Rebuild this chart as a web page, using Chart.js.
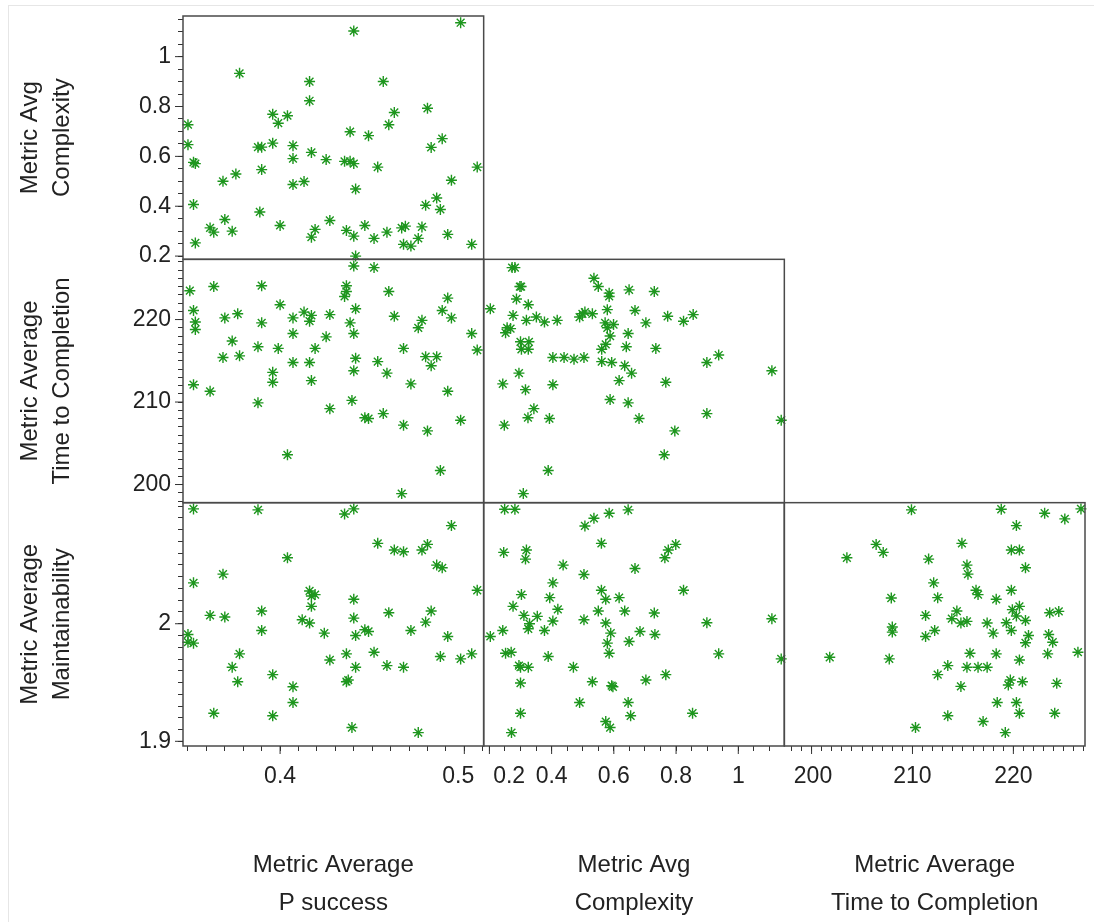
<!DOCTYPE html>
<html>
<head>
<meta charset="utf-8">
<script src="https://cdn.jsdelivr.net/npm/chart.js@4.4.0/dist/chart.umd.min.js"></script>
<style>
  html, body { margin: 0; padding: 0; background: #fff; overflow: hidden; }
  #frame { position: absolute; left: 8px; top: 5px; width: 1100px; height: 930px; border: 1px solid #e6e6e6; }
  #wrap { position: absolute; left: 0; top: 0; width: 1094px; height: 922px; }
</style>
</head>
<body>
<div id="frame"></div>
<div id="wrap"><canvas id="splom" width="1094" height="922"></canvas></div>
<script>
// row 1: Metric Avg Complexity vs Metric Average P success
const pSuccess1 = [0.440,0.498,0.378,0.416,0.456,0.416,0.480,0.396,0.404,0.399,0.462,0.459,0.350,0.350,0.353,0.354,0.388,0.390,0.396,0.407,0.407,0.417,0.425,0.435,0.438,0.440,0.438,0.448,0.453,0.482,0.488,0.507,0.376,0.369,0.390,0.407,0.413,0.441,0.493,0.353,0.389,0.370,0.362,0.364,0.374,0.400,0.354,0.427,0.419,0.417,0.436,0.440,0.446,0.451,0.458,0.466,0.468,0.477,0.475,0.467,0.471,0.479,0.485,0.487,0.491,0.504,0.441];
const complexity1 = [1.103,1.136,0.933,0.900,0.900,0.823,0.793,0.769,0.763,0.733,0.776,0.727,0.727,0.647,0.576,0.571,0.637,0.637,0.653,0.643,0.591,0.616,0.587,0.580,0.580,0.571,0.699,0.683,0.557,0.636,0.671,0.557,0.529,0.500,0.547,0.487,0.499,0.469,0.504,0.407,0.377,0.347,0.313,0.296,0.300,0.323,0.253,0.343,0.307,0.276,0.303,0.280,0.323,0.271,0.296,0.313,0.320,0.317,0.271,0.247,0.240,0.404,0.433,0.387,0.287,0.247,0.200];

// row 2: Metric Average Time to Completion vs P success / Complexity
const pSuccess2 = [0.440,0.451,0.351,0.364,0.390,0.436,0.436,0.435,0.459,0.491,0.488,0.493,0.353,0.354,0.354,0.370,0.377,0.400,0.390,0.407,0.413,0.417,0.416,0.427,0.441,0.438,0.440,0.462,0.477,0.475,0.504,0.507,0.374,0.369,0.378,0.388,0.399,0.407,0.425,0.419,0.407,0.416,0.396,0.396,0.417,0.441,0.440,0.453,0.458,0.467,0.479,0.485,0.482,0.471,0.491,0.353,0.362,0.388,0.439,0.427,0.446,0.448,0.456,0.467,0.480,0.498,0.404,0.487,0.466];
const time2 = [226.5,226.3,223.5,224.0,224.1,224.1,223.4,222.8,223.4,222.6,221.1,220.2,221.1,219.7,218.8,220.2,220.7,221.8,219.6,220.2,220.9,220.5,219.8,220.6,221.3,219.6,218.3,220.4,219.9,219.0,218.3,216.3,217.4,215.4,215.6,216.7,216.5,218.3,217.9,216.5,214.8,214.8,213.6,212.4,212.6,215.3,213.8,214.9,213.5,216.5,215.5,215.5,214.4,212.2,211.3,212.1,211.3,209.9,210.2,209.2,208.1,208.0,208.6,207.2,206.5,207.8,203.6,201.7,198.9];
const complexity3 = [0.273,0.282,0.302,0.298,0.287,0.325,0.203,0.276,0.319,0.351,0.377,0.418,0.257,0.268,0.252,0.300,0.327,0.303,0.325,0.536,0.550,0.585,0.585,0.649,0.730,0.668,0.499,0.507,0.531,0.490,0.579,0.572,0.599,0.579,0.588,0.574,0.561,0.646,0.703,0.773,0.824,0.855,0.404,0.440,0.472,0.504,0.561,0.593,0.635,0.657,0.640,0.735,0.899,0.937,1.108,0.295,0.243,0.316,0.404,0.617,0.767,0.588,0.646,0.343,0.324,0.393,0.681,0.899,1.138,0.248,0.796,0.762,0.389,0.309];
const time3 = [226.3,226.3,224.0,224.0,222.5,221.8,221.3,220.5,219.9,220.3,219.7,219.9,219.0,218.9,218.4,217.3,217.3,216.4,216.4,225.0,224.0,223.2,222.8,223.6,223.4,221.1,220.7,220.9,220.7,220.3,221.2,219.6,219.4,219.0,218.0,217.0,216.4,218.3,219.6,220.4,219.8,220.6,215.4,215.4,215.2,215.4,214.9,214.8,214.4,213.5,216.7,216.5,214.8,215.7,213.8,213.5,212.2,211.5,212.1,212.6,212.4,210.3,209.9,209.2,208.1,208.0,208.0,208.6,207.8,207.2,206.5,203.6,201.7,198.9];

// row 3: Metric Average Maintainability vs P success / Complexity / Time
const pSuccess4 = [0.353,0.388,0.435,0.440,0.493,0.453,0.462,0.467,0.477,0.480,0.485,0.488,0.404,0.369,0.353,0.507,0.416,0.417,0.419,0.417,0.440,0.362,0.370,0.390,0.390,0.412,0.416,0.424,0.440,0.441,0.446,0.448,0.459,0.471,0.482,0.479,0.491,0.350,0.350,0.353,0.378,0.374,0.377,0.396,0.407,0.407,0.427,0.436,0.441,0.436,0.437,0.451,0.458,0.467,0.487,0.498,0.504,0.364,0.396,0.439,0.475];
const maint4 = [2.0977,2.0969,2.0934,2.0977,2.0835,2.0684,2.0627,2.0613,2.0627,2.0675,2.0499,2.0476,2.0561,2.0422,2.0348,2.0285,2.0279,2.0236,2.0248,2.0148,2.0208,2.0071,2.0057,2.0108,1.9943,2.0034,2.0006,1.992,2.0048,1.99,1.9949,1.9934,2.0094,1.9943,2.0108,2.0014,1.9892,1.9909,1.9843,1.9835,1.9744,1.963,1.9507,1.9567,1.9464,1.933,1.9692,1.9744,1.963,1.9507,1.9521,1.9758,1.9644,1.963,1.9721,1.9701,1.9744,1.9239,1.9217,1.9117,1.9074];
const complexity5 = [0.249,0.282,0.507,0.536,0.585,0.646,0.560,0.246,0.319,0.316,0.764,0.775,0.799,0.437,0.504,0.668,0.404,0.303,0.394,0.420,0.276,0.560,0.574,0.617,0.824,0.550,0.635,0.730,0.311,0.354,0.329,0.325,0.404,0.377,0.504,0.574,0.590,0.684,0.732,0.649,0.579,0.585,0.899,1.108,0.203,0.243,0.252,0.270,0.295,0.300,0.325,0.389,0.470,0.937,1.138,0.300,0.531,0.593,0.597,0.703,0.767,0.490,0.646,0.654,0.853,0.300,0.574,0.588,0.271];
const maint5 = [2.0974,2.0974,2.0832,2.0897,2.094,2.0969,2.0684,2.0607,2.0627,2.055,2.0561,2.0627,2.0675,2.0499,2.0419,2.047,2.0348,2.0248,2.0222,2.0123,2.0148,2.0285,2.0208,2.0222,2.0285,2.0108,2.0108,2.0091,2.0071,2.0063,2.0,1.9957,2.0023,1.9943,2.0034,2.0006,1.992,1.9934,1.9909,1.9849,1.9835,1.9749,2.0009,2.0043,1.9892,1.9943,1.9749,1.9758,1.9644,1.963,1.963,1.9721,1.963,1.9744,1.9701,1.9496,1.9507,1.9473,1.9464,1.9521,1.9567,1.933,1.933,1.9217,1.9239,1.9239,1.9168,1.9117,1.9074];
const time6 = [209.9,218.8,223.1,225.1,226.7,220.3,214.9,206.4,207.1,203.5,211.6,219.8,220.6,215.4,215.5,221.2,212.1,216.3,216.5,219.8,207.9,212.5,218.3,219.9,220.6,220.3,221.2,223.6,224.5,211.3,214.4,213.9,214.8,215.4,217.4,219.3,219.8,218.0,221.5,221.2,223.5,223.9,208.0,208.0,211.3,212.2,201.8,207.7,215.7,218.3,220.6,223.4,226.4,213.5,215.4,216.5,217.4,212.5,214.8,219.7,219.5,220.9,224.3,218.4,220.3,220.6,224.1,213.5,217.0,219.2,210.3];
const maint6 = [2.0969,2.0974,2.094,2.0892,2.0977,2.0835,2.0684,2.0675,2.0607,2.0561,2.055,2.0627,2.0627,2.0499,2.0422,2.0476,2.0348,2.0285,2.0248,2.0285,2.0219,2.0222,2.0208,2.012,2.0148,2.0066,2.0028,2.0094,2.0105,2.0071,2.0108,2.0043,2.0006,2.002,2.0006,2.0009,1.9943,1.992,1.99,1.9838,1.9909,1.9843,1.9972,1.9929,1.9892,1.9943,1.9715,1.9701,1.9749,1.9744,1.9692,1.9744,1.9758,1.9644,1.963,1.963,1.963,1.9567,1.9467,1.9521,1.9479,1.9507,1.9493,1.933,1.933,1.9239,1.9239,1.9217,1.9168,1.9074,1.9117];

// labelled tick values
const pSuccessTicks = [0.4, 0.5];
const complexityTicks = [0.2, 0.4, 0.6, 0.8, 1];
const timeTicks = [200, 210, 220];
const maintTicks = [1.9, 2];

const titleP = ['Metric Average', 'P success'];
const titleC = ['Metric Avg', 'Complexity'];
const titleT = ['Metric Average', 'Time to Completion'];
const titleM = ['Metric Average', 'Maintainability'];

const FONT = '"Liberation Sans", Arial, sans-serif';
const GREEN = 'rgb(30,150,30)';

function stepTicks(min, max, step) {
  const out = [];
  for (let k = Math.ceil(min / step - 1e-9); k * step <= max + 1e-9; k++) {
    out.push({ value: +(k * step).toFixed(6) });
  }
  return out;
}

function axis(pos, min, max, step, labels, title) {
  const left = pos === 'left';
  return {
    type: 'linear',
    position: pos,
    stack: left ? 'rows' : 'cols',
    stackWeight: 1,
    bounds: 'data',
    min: min,
    max: max,
    afterBuildTicks: s => { s.ticks = stepTicks(min, max, step); },
    afterFit: s => {
      if (left) s.width = 175; else s.height = 176;
      s.paddingTop = 0; s.paddingBottom = 0; s.paddingLeft = 0; s.paddingRight = 0;
    },
    border: { display: false },
    grid: { drawOnChartArea: false, drawTicks: true, tickLength: 5, tickColor: '#333', tickWidth: 1 },
    ticks: {
      autoSkip: false,
      maxRotation: 0,
      padding: 7,
      color: '#222',
      font: { family: FONT, size: 23 },
      // x labels are drawn by the plugin below so they can be nudged apart
      callback: v => (left && labels.some(l => Math.abs(l - v) < 1e-9)) ? String(v) : ''
    },
    title: {
      display: true,
      text: title,
      color: '#222',
      font: { family: FONT, size: 24, lineHeight: left ? 1.34 : 1.58 },
      padding: left ? { top: 6, bottom: 0 } : { top: 0, bottom: 0 }
    }
  };
}

function panel(xs, ys, xAxisID, yAxisID) {
  return {
    data: xs.map((x, i) => ({ x: x, y: ys[i] })),
    xAxisID: xAxisID,
    yAxisID: yAxisID,
    pointStyle: 'star',
    pointRadius: 5.5,
    pointBorderWidth: 1.4,
    pointBorderColor: GREEN,
    pointBackgroundColor: GREEN,
    clip: 6
  };
}

const majorTicks = { xP: pSuccessTicks, xC: complexityTicks, xT: timeTicks, yC: complexityTicks, yT: timeTicks, yM: maintTicks };

const matrixDecor = {
  id: 'matrixDecor',
  afterDraw(chart) {
    const ctx = chart.ctx;
    ctx.save();
    ctx.strokeStyle = '#4a4a4a';
    ctx.lineWidth = 1.5;
    chart.data.datasets.forEach((d, i) => {
      const m = chart.getDatasetMeta(i);
      ctx.strokeRect(m.xScale.left, m.yScale.top, m.xScale.right - m.xScale.left, m.yScale.bottom - m.yScale.top);
    });
    ctx.strokeStyle = '#333';
    ctx.lineWidth = 1;
    ctx.font = '23px ' + FONT;
    ctx.fillStyle = '#222';
    ctx.textAlign = 'center';
    ctx.textBaseline = 'alphabetic';
    Object.entries(majorTicks).forEach(([id, vals]) => {
      const s = chart.scales[id];
      vals.forEach(v => {
        const p = s.getPixelForValue(v);
        ctx.beginPath();
        if (s.isHorizontal()) {
          ctx.moveTo(p, s.top);
          ctx.lineTo(p, s.top + 8);
          ctx.stroke();
          const txt = String(v);
          const w = ctx.measureText(txt).width;
          const cx = Math.min(Math.max(p, s.left + w / 2 + 9.5), s.right - w / 2 - 9.5);
          ctx.fillText(txt, cx, s.top + 37);
        } else {
          ctx.moveTo(s.right - 8, p);
          ctx.lineTo(s.right, p);
          ctx.stroke();
        }
      });
    });
    ctx.restore();
  }
};

new Chart(document.getElementById('splom').getContext('2d'), {
  type: 'scatter',
  data: {
    datasets: [
      panel(pSuccess1, complexity1, 'xP', 'yC'),
      panel(pSuccess2, time2, 'xP', 'yT'),
      panel(complexity3, time3, 'xC', 'yT'),
      panel(pSuccess4, maint4, 'xP', 'yM'),
      panel(complexity5, maint5, 'xC', 'yM'),
      panel(time6, maint6, 'xT', 'yM')
    ]
  },
  options: {
    responsive: false,
    animation: false,
    events: [],
    layout: { padding: { left: 8, right: 9, top: 16, bottom: 0 } },
    plugins: { legend: { display: false }, tooltip: { enabled: false } },
    scales: {
      // stacked left axes are laid out bottom-up
      yM: axis('left', 1.896, 2.103, 0.01, maintTicks, titleM),
      yT: axis('left', 197.8, 227.3, 1, timeTicks, titleT),
      yC: axis('left', 0.187, 1.163, 0.05, complexityTicks, titleC),
      xP: axis('bottom', 0.3473, 0.5105, 0.01, pSuccessTicks, titleP),
      xC: axis('bottom', 0.1816, 1.148, 0.05, complexityTicks, titleC),
      xT: axis('bottom', 197.3, 227.1, 1, timeTicks, titleT)
    }
  },
  plugins: [matrixDecor]
});
</script>
</body>
</html>
